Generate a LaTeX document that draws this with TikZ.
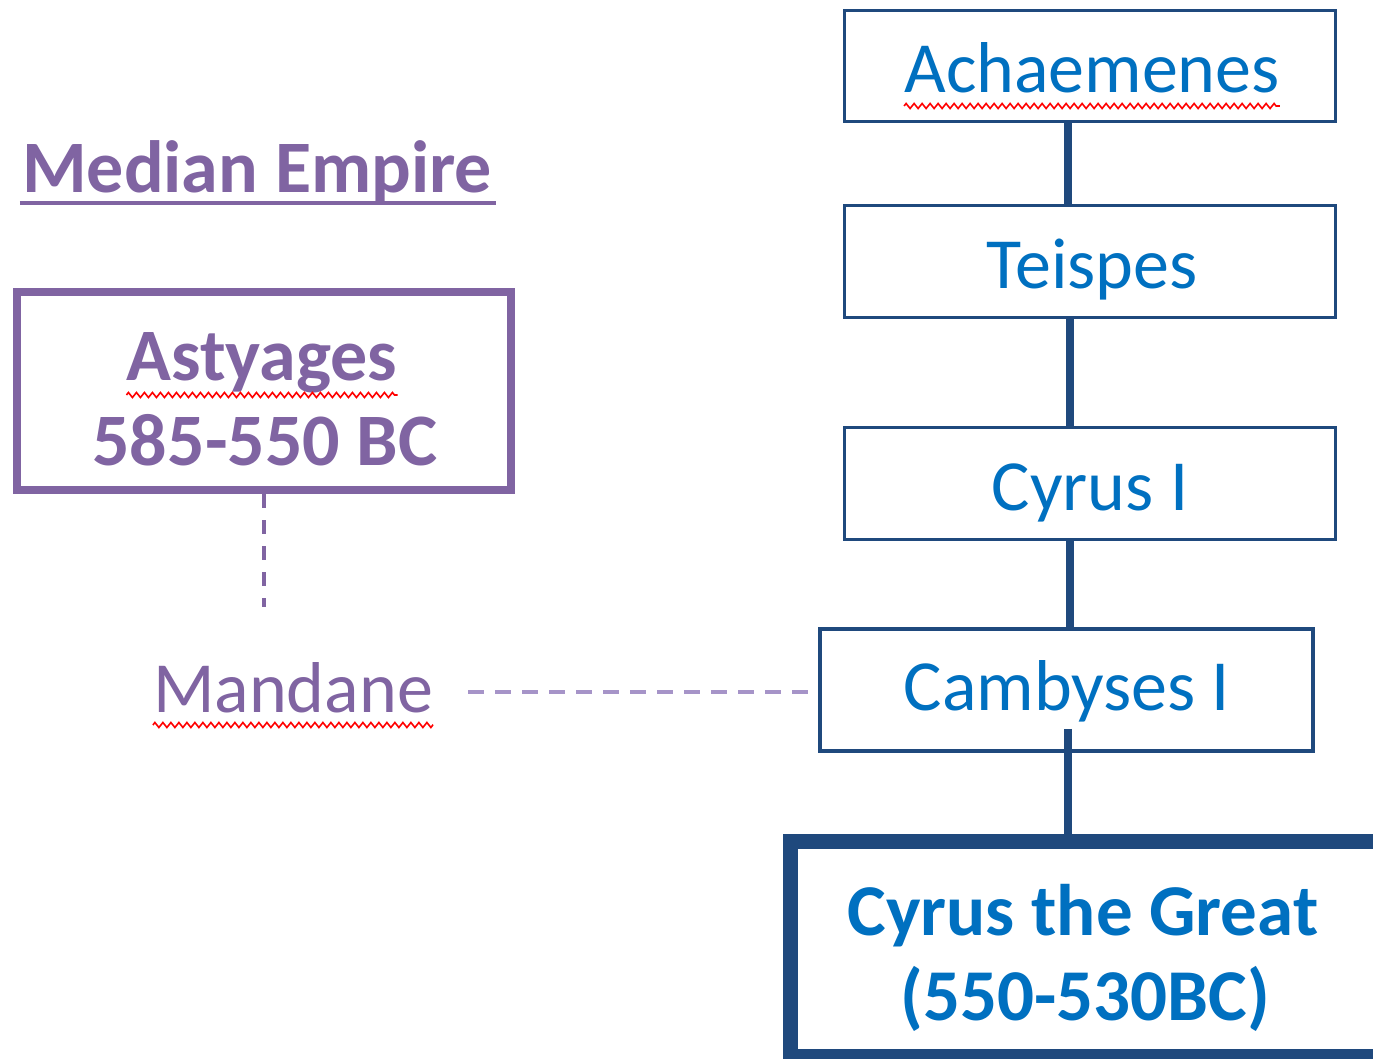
\documentclass[tikz,border=0pt]{standalone}
\usepackage{fontspec}
\setmainfont{Carlito}
\usetikzlibrary{calc,decorations.pathmorphing}
\definecolor{boxblue}{RGB}{31,73,125}
\definecolor{txtblue}{RGB}{0,112,192}
\definecolor{medpurple}{RGB}{128,100,162}
\definecolor{lightpurple}{RGB}{166,148,200}
\tikzset{
  bbox/.style={draw=boxblue, line width=3.5pt, rectangle, inner sep=0pt},
  btext/.style={text=txtblue, font=\fontsize{72}{86}\selectfont, inner sep=0pt, anchor=base},
  ptext/.style={text=medpurple, font=\fontsize{72}{86}\selectfont, inner sep=0pt, anchor=base},
  pbold/.style={ptext, font=\fontsize{74}{88}\selectfont\bfseries},
  conn/.style={draw=boxblue, line width=8pt},
  wavy/.style={draw=red, line width=1.6pt, decorate, decoration={zigzag, amplitude=2.5pt, segment length=8pt}},
  pdash/.style={draw=lightpurple, line width=4pt, dash pattern=on 16pt off 11pt},
  pvdash/.style={draw=medpurple, line width=3.5pt, dash pattern=on 14pt off 12pt}
}
\begin{document}
\begin{tikzpicture}[x=1pt,y=-1pt]
\path[use as bounding box] (0,0) rectangle (1373,1059);
\clip (0,0) rectangle (1373,1059);
\fill[white] (0,0) rectangle (1373,1059);

% Achaemenid line
\node[bbox, minimum width=491pt, minimum height=111pt] (achbox) at (1090,66) {};
\node[btext] (ach) at (1092,93) {Achaemenes};
\node[bbox, minimum width=491pt, minimum height=112pt] (teibox) at (1090,261.5) {};
\node[btext] (tei) at (1092,288) {Teispes};
\node[bbox, minimum width=491pt, minimum height=112pt] (cyrbox) at (1090,483.5) {};
\node[btext] (cyr) at (1090,510) {Cyrus I};
\node[bbox, minimum width=493pt, minimum height=122pt] (cambox) at (1066.5,690) {};
\node[btext] (cam) at (1067,710) {Cambyses I};
\node[bbox, line width=15pt, minimum width=595pt, minimum height=215pt] (grbox) at (1087.5,948.5) {};
\node[btext, font=\fontsize{73}{86}\selectfont\bfseries] (gr1) at (1083,935) {Cyrus the Great};
\node[btext, font=\fontsize{73}{86}\selectfont\bfseries] (gr2) at (1085,1020) {(550-530BC)};

% connectors
\draw[conn] ($(achbox.south)+(-22,0)$) -- ($(teibox.north)+(-22,0)$);
\draw[conn] ($(teibox.south)+(-20,0)$) -- ($(cyrbox.north)+(-20,0)$);
\draw[conn] ($(cyrbox.south)+(-20,0)$) -- ($(cambox.north)+(3.5,0)$);
\coordinate (camstart) at ($(cambox.south)+(1.5,-24)$);
\draw[conn] (camstart) -- (camstart |- grbox.north);

% Median side
\node[pbold] (med) at (257,193) {Median Empire};
\draw[medpurple, line width=3.5pt] ($(med.base west)+(-2,10)$) -- ($(med.base east)+(4,10)$);

\node[draw=medpurple, line width=8pt, rectangle, inner sep=0pt, minimum width=494pt, minimum height=198pt] (astbox) at (264,391) {};
\node[pbold] (ast) at (262,380) {Astyages};
\node[pbold] (astd) at (265,465) {585-550 BC};

\node[ptext] (mand) at (293,712) {Mandane};
\coordinate (vend) at (264,607);
\draw[pvdash] (astbox.south) -- (vend);
\coordinate (hstart) at ($(mand.base east)+(35,-20)$);
\draw[pdash] (hstart) -- (hstart -| cambox.west);

% spell-check underlines
\draw[wavy] ($(ach.base west)+(0,13)$) -- ($(ach.base east)+(0,13)$);
\draw[wavy] ($(ast.base west)+(0,15)$) -- ($(ast.base east)+(0,15)$);
\draw[wavy] ($(mand.base west)+(0,13)$) -- ($(mand.base east)+(0,13)$);
\end{tikzpicture}
\end{document}
